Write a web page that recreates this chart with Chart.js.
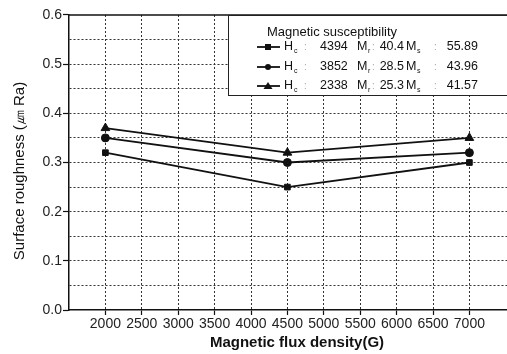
<!DOCTYPE html>
<html>
<head>
<meta charset="utf-8">
<script src="https://cdn.jsdelivr.net/npm/chart.js@4/dist/chart.umd.min.js"></script>
<style>
  html, body { margin: 0; padding: 0; background: #fff; overflow: hidden; }
  #wrap { width: 530px; height: 354px; position: relative; }
</style>
</head>
<body>
<div id="wrap"><canvas id="c"></canvas></div>
<script>
// ---- data ----
const fluxDensity = [2000, 4500, 7000];
const squareSeries = [0.32, 0.25, 0.30];
const circleSeries = [0.35, 0.30, 0.32];
const triangleSeries = [0.37, 0.32, 0.35];
const hcValues = ['4394', '3852', '2338'];
const mrValues = ['40.4', '28.5', '25.3'];
const msValues = ['55.89', '43.96', '41.57'];
const xTickValues = [1500, 2000, 2500, 3000, 3500, 4000, 4500, 5000, 5500, 6000, 6500, 7000, 7500];
const xLabelled = [2000, 2500, 3000, 3500, 4000, 4500, 5000, 5500, 6000, 6500, 7000];
const legendTitle = 'Magnetic susceptibility';
const xTitle = 'Magnetic flux density(G)';
const yTitle = 'Surface roughness (\u339B Ra)';

const FONT = '"Liberation Sans", Arial, sans-serif';
const INK = '#111';
const GRID = '#333';

function pts(vals) { return fluxDensity.map((x, i) => ({x: x, y: vals[i]})); }
const styles = ['rect', 'circle', 'triangle'];
const seriesData = [squareSeries, circleSeries, triangleSeries];

const datasets = seriesData.map((vals, i) => ({
  label: 'Hc ' + hcValues[i],
  data: pts(vals),
  borderColor: INK,
  backgroundColor: INK,
  borderWidth: 1.8,
  pointStyle: styles[i],
  pointRadius: styles[i] === 'triangle' ? 5 : 4,
  pointBorderWidth: 1,
  pointBackgroundColor: INK,
  pointBorderColor: INK,
  tension: 0
}));

const frame = {
  id: 'frame',
  afterDatasetsDraw(chart) {
    const {ctx, chartArea: a} = chart;
    ctx.save();
    // top border
    ctx.strokeStyle = INK; ctx.lineWidth = 1.5;
    ctx.beginPath(); ctx.moveTo(a.left, a.top); ctx.lineTo(a.right, a.top); ctx.stroke();
    // axis titles
    ctx.fillStyle = INK;
    ctx.textAlign = 'center';
    ctx.textBaseline = 'middle';
    ctx.font = 'bold 15px ' + FONT;
    ctx.fillText(xTitle, 297, 343);
    ctx.save();
    ctx.translate(20, 171);
    ctx.rotate(-Math.PI / 2);
    ctx.font = '15px ' + FONT;
    ctx.fillText(yTitle, 0, 0);
    ctx.restore();
    // legend box
    const bx = 228, by = a.top, bw = 400, bh = 80;
    ctx.fillStyle = '#fff';
    ctx.fillRect(bx, by, bw, bh);
    ctx.strokeStyle = '#222'; ctx.lineWidth = 1;
    ctx.strokeRect(bx + 0.5, by + 0.5, bw, bh);
    ctx.fillStyle = INK;
    ctx.textBaseline = 'middle';
    ctx.font = '13px ' + FONT;
    ctx.textAlign = 'left';
    ctx.fillText(legendTitle, 267, 32);
    const rowsY = [47, 67, 86];
    rowsY.forEach((y, i) => {
      // line symbol
      ctx.strokeStyle = INK; ctx.lineWidth = 1.8;
      ctx.beginPath(); ctx.moveTo(257, y); ctx.lineTo(280, y); ctx.stroke();
      ctx.fillStyle = INK;
      const s = styles[i];
      ctx.beginPath();
      if (s === 'rect') { ctx.rect(265, y - 3, 6, 6); }
      else if (s === 'circle') { ctx.arc(268, y, 3, 0, Math.PI * 2); }
      else { ctx.moveTo(268, y - 4); ctx.lineTo(272.5, y + 3); ctx.lineTo(263.5, y + 3); ctx.closePath(); }
      ctx.fill();
      ctx.font = '12.5px ' + FONT;
      ctx.textAlign = 'left';
      ctx.fillText('H', 284, y);
      ctx.font = '7px ' + FONT;
      ctx.fillText('c', 294, y + 4);
      ctx.fillStyle = '#aaa';
      ctx.font = '10px ' + FONT;
      ctx.fillText(':', 304, y);
      ctx.fillStyle = INK;
      ctx.font = '12.5px ' + FONT;
      ctx.fillText(hcValues[i], 320, y);
      ctx.fillText('M', 357, y);
      ctx.font = '7px ' + FONT;
      ctx.fillText('r', 368, y + 4);
      ctx.fillStyle = '#aaa';
      ctx.font = '10px ' + FONT;
      ctx.fillText(':', 372, y);
      ctx.fillStyle = INK;
      ctx.font = '12.5px ' + FONT;
      ctx.textAlign = 'right';
      ctx.fillText(mrValues[i], 404, y);
      ctx.textAlign = 'left';
      ctx.fillText('M', 406, y);
      ctx.font = '7px ' + FONT;
      ctx.fillText('s', 417, y + 4);
      ctx.fillStyle = '#aaa';
      ctx.font = '10px ' + FONT;
      ctx.fillText(':', 434, y);
      ctx.fillStyle = INK;
      ctx.font = '12.5px ' + FONT;
      ctx.textAlign = 'right';
      ctx.fillText(msValues[i], 478, y);
    });
    ctx.restore();
  }
};

new Chart(document.getElementById('c'), {
  type: 'scatter',
  data: { datasets: datasets },
  options: {
    responsive: true,
    maintainAspectRatio: false,
    animation: false,
    showLine: true,
    layout: { padding: { left: 0, top: 15, right: 5, bottom: 0 } },
    plugins: { legend: { display: false }, tooltip: { enabled: false } },
    scales: {
      x: {
        type: 'linear',
        min: 1500, max: 7750,
        afterBuildTicks(scale) { scale.ticks = xTickValues.map(v => ({value: v})); },
        afterFit(scale) { scale.height = 44; },
        grid: {
          drawOnChartArea: true,
          color: ctx => (ctx.tick && (ctx.tick.value === 1500 || ctx.tick.value === 7500)) ? 'rgba(0,0,0,0)' : GRID,
          lineWidth: 1,
          tickLength: 5,
          tickColor: ctx => (ctx.tick && xLabelled.includes(ctx.tick.value)) ? INK : 'rgba(0,0,0,0)',
          tickWidth: 1.2,
          tickBorderDash: []
        },
        border: { display: true, color: INK, width: 1.5, dash: [2, 2] },
        ticks: {
          autoSkip: false, maxRotation: 0, padding: 1,
          color: '#222',
          font: { family: FONT, size: 14 },
          callback: v => xLabelled.includes(v) ? String(v) : ''
        },
        title: { display: false }
      },
      y: {
        type: 'linear',
        min: 0, max: 0.6,
        afterBuildTicks(scale) {
          const t = [];
          for (let i = 0; i <= 12; i++) t.push({value: i * 0.05});
          scale.ticks = t;
        },
        afterFit(scale) { scale.width = 69; },
        grid: {
          color: ctx => (ctx.tick && (Math.round(ctx.tick.value * 100) === 0 || Math.round(ctx.tick.value * 100) === 60)) ? 'rgba(0,0,0,0)' : GRID,
          lineWidth: 1,
          tickLength: 6,
          tickColor: ctx => (ctx.tick && Math.round(ctx.tick.value * 100) % 10 === 0) ? INK : 'rgba(0,0,0,0)',
          tickWidth: 1.2,
          tickBorderDash: []
        },
        border: { display: true, color: INK, width: 1.5, dash: [2, 2] },
        ticks: {
          padding: 1,
          color: '#222',
          font: { family: FONT, size: 14 },
          callback: v => (Math.round(v * 100) % 10 === 0) ? v.toFixed(1) : ''
        },
        title: { display: false }
      }
    }
  },
  plugins: [frame]
});
</script>
</body>
</html>
